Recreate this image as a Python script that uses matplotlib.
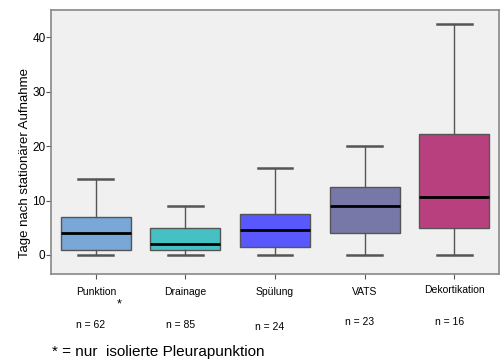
import matplotlib
matplotlib.use("Agg")
import matplotlib.pyplot as plt

FONT = "Liberation Sans"

categories = ["Punktion", "Drainage", "Spülung", "VATS", "Dekortikation"]
n_labels = ["n = 62", "n = 85", "n = 24", "n = 23", "n = 16"]
whislo = [0, 0, 0, 0, 0]
q1 = [1, 1, 1.5, 4, 5]
med = [4, 2, 4.5, 9, 10.6]
q3 = [7, 5, 7.5, 12.5, 22.2]
whishi = [14, 9, 16, 20, 42.4]
colors = ["#79A7D8", "#45C0C3", "#5858FC", "#7878A8", "#B9407E"]
yticks = [0, 10, 20, 30, 40]

fig = plt.figure(figsize=(5.01, 3.6), dpi=100)
ax = fig.add_axes([51/501, 1-274/360, 448/501, 264/360])
ax.set_facecolor("#F0F0F0")

stats = []
for i, c in enumerate(categories):
    stats.append(dict(label=c, whislo=whislo[i], q1=q1[i], med=med[i], q3=q3[i], whishi=whishi[i], fliers=[]))

bp = ax.bxp(stats, positions=range(len(categories)), widths=0.78, patch_artist=True,
            showfliers=False,
            boxprops=dict(edgecolor="#555555", linewidth=1.0),
            medianprops=dict(color="black", linewidth=2.0),
            whiskerprops=dict(color="#555555", linewidth=1.0),
            capprops=dict(color="#555555", linewidth=1.8),
            capwidths=0.39)
for patch, col in zip(bp["boxes"], colors):
    patch.set_facecolor(col)

ax.set_xlim(-0.5, len(categories) - 0.5)
ax.set_ylim(-3.5, 45)
ax.set_yticks(yticks)
ax.set_yticklabels([str(t) for t in yticks], fontsize=8.5, family=FONT)
ax.set_xticks(range(len(categories)))
ax.set_xticklabels([])
ax.tick_params(axis="both", direction="out", length=3.5, width=0.8, color="#555555", pad=0.5)
for s in ax.spines.values():
    s.set_color("#888888")
    s.set_linewidth(1.2)

fig.text(25/501, 1 - 163/360, "Tage nach stationärer Aufnahme", rotation=90,
         ha="center", va="center", fontsize=9.5, family=FONT)

cat_y = [292, 292, 292, 292, 290]
n_y = [325, 325, 327, 322, 322]
for i, c in enumerate(categories):
    xfig = ax.transData.transform((i, 0))[0] / fig.dpi / 5.01
    fig.text(xfig, 1 - cat_y[i]/360, c, ha="center", va="center", fontsize=7.5, family=FONT)
    fig.text(xfig - 0.01, 1 - n_y[i]/360, n_labels[i], ha="center", va="center", fontsize=7.5, family=FONT)
fig.text(119/501, 1 - 304/360, "*", ha="center", va="center", fontsize=9, family=FONT)
fig.text(52/501, 1 - 352/360, "* = nur  isolierte Pleurapunktion", ha="left", va="center",
         fontsize=11, family=FONT)

fig.savefig("out.png", dpi=100)
